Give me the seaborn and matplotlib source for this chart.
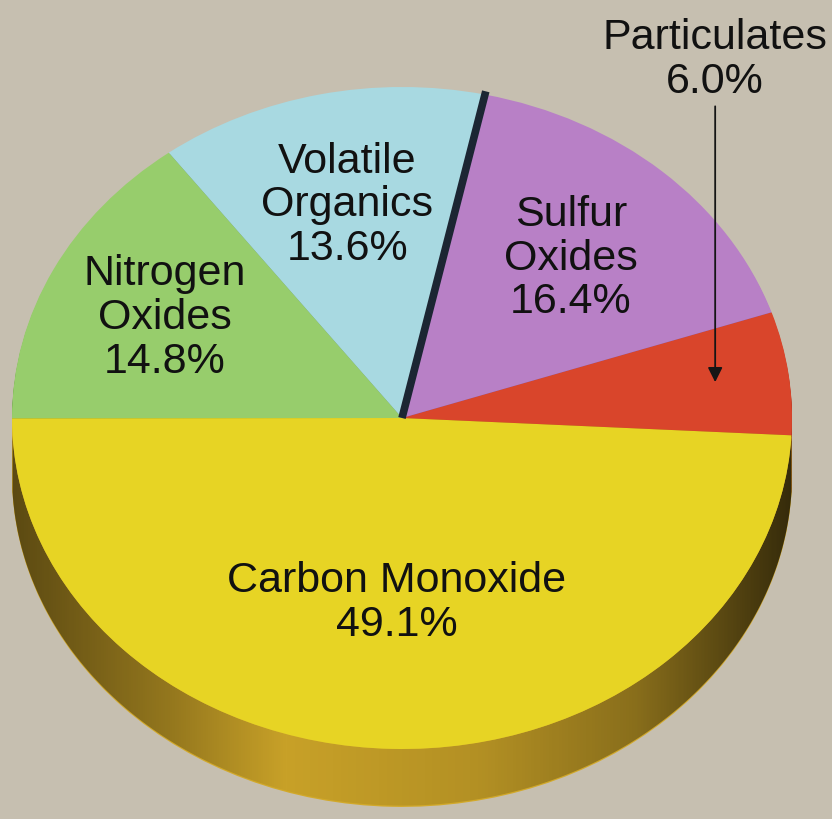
import numpy as np
import matplotlib
matplotlib.use("Agg")
import matplotlib.pyplot as plt
import seaborn as sns
from matplotlib.patches import Polygon

# --- data (counter-clockwise from the right edge) ---
labels = ["Particulates", "Sulfur\nOxides", "Volatile\nOrganics", "Nitrogen\nOxides", "Carbon Monoxide"]
shares = [6.0, 16.4, 13.6, 14.8, 49.1]
top_colors = ["#d9452b", "#b880c6", "#a8d9e1", "#97cd6c", "#e7d424"]
side_colors = ["#a8301c", "#7d4d8a", "#6f9aa0", "#5b8c3c", "#d2a92a"]

sns.set_theme(style="white")
plt.rcParams["font.family"] = ["Liberation Sans", "DejaVu Sans"]

bg = "#c6bfb0"
fig = plt.figure(figsize=(8.32, 8.20), dpi=100, facecolor=bg)
ax = fig.add_axes([0, 0, 1, 1])
ax.set_facecolor(bg)

start = -3.0
depth = 0.175

# side of the disc: stacked pies shifted downwards
for t in np.linspace(depth, 0.005, 40):
    ax.pie(shares, colors=side_colors, startangle=start, counterclock=True,
           center=(0, -t), radius=1.0, wedgeprops=dict(linewidth=0),
           frame=False)

# shading of the side (dark at the edges, bright front-left)
theta = np.radians(np.linspace(183, 357, 200))
upper = np.column_stack([np.cos(theta), np.sin(theta)])
lower = np.column_stack([np.cos(theta[::-1]), np.sin(theta[::-1]) - depth + 0.004])
band = Polygon(np.vstack([upper, lower]), closed=True, facecolor="none",
               edgecolor="none", transform=ax.transData)
ax.add_patch(band)
xs = np.linspace(-1.05, 1.05, 300)
alpha = np.interp(xs, [-1.05, -0.6, -0.3, 0.2, 0.6, 1.05],
                  [0.6, 0.3, 0.05, 0.15, 0.35, 0.8])
shade = np.zeros((1, len(xs), 4))
shade[0, :, 3] = alpha
im = ax.imshow(shade, extent=(-1.05, 1.05, -1.3, 0.0), aspect="auto",
               zorder=3, interpolation="bilinear")
im.set_clip_path(band)

# top face
wedges, _ = ax.pie(shares, colors=top_colors, startangle=start, counterclock=True,
                   radius=1.0, wedgeprops=dict(linewidth=0), frame=False)
for w in wedges:
    w.set_zorder(4)

# dark seam between Volatile Organics and Sulfur Oxides
cum = start + 360 * np.cumsum(shares) / np.sum(shares)
seam = np.radians(cum[1])
ax.plot([0, 1.01 * np.cos(seam)], [0, 1.01 * np.sin(seam)], color="#1c2633",
        lw=5.5, solid_capstyle="butt", zorder=5)

# labels inside the slices
mids = start + 360 * (np.cumsum(shares) - np.array(shares) / 2) / np.sum(shares)
dist = [None, 0.65, 0.66, 0.68, 0.556]
for lab, val, mid, r in zip(labels, shares, mids, dist):
    if r is None:
        continue
    a = np.radians(mid)
    ax.text(r * np.cos(a), r * np.sin(a), f"{lab}\n{val:.1f}%", ha="center",
            va="center", fontsize=31, color="#111111", linespacing=1.12, zorder=6)

# Particulates label outside with arrow
ax.text(0.803, 1.085, f"{labels[0]}\n{shares[0]:.1f}%", ha="center", va="center",
        fontsize=31, color="#111111", linespacing=1.12, zorder=6)
ax.annotate("", xy=(0.803, 0.10), xytext=(0.803, 0.95),
            arrowprops=dict(arrowstyle="-|>", color="#151515", lw=1.3,
                            mutation_scale=22), zorder=6)

ax.set_xlim(-402 / 390, 430 / 390)
ax.set_ylim(-401 / 331, 419 / 331)
ax.set_aspect("auto")
ax.axis("off")

fig.savefig("out.png", dpi=100, facecolor=bg)
